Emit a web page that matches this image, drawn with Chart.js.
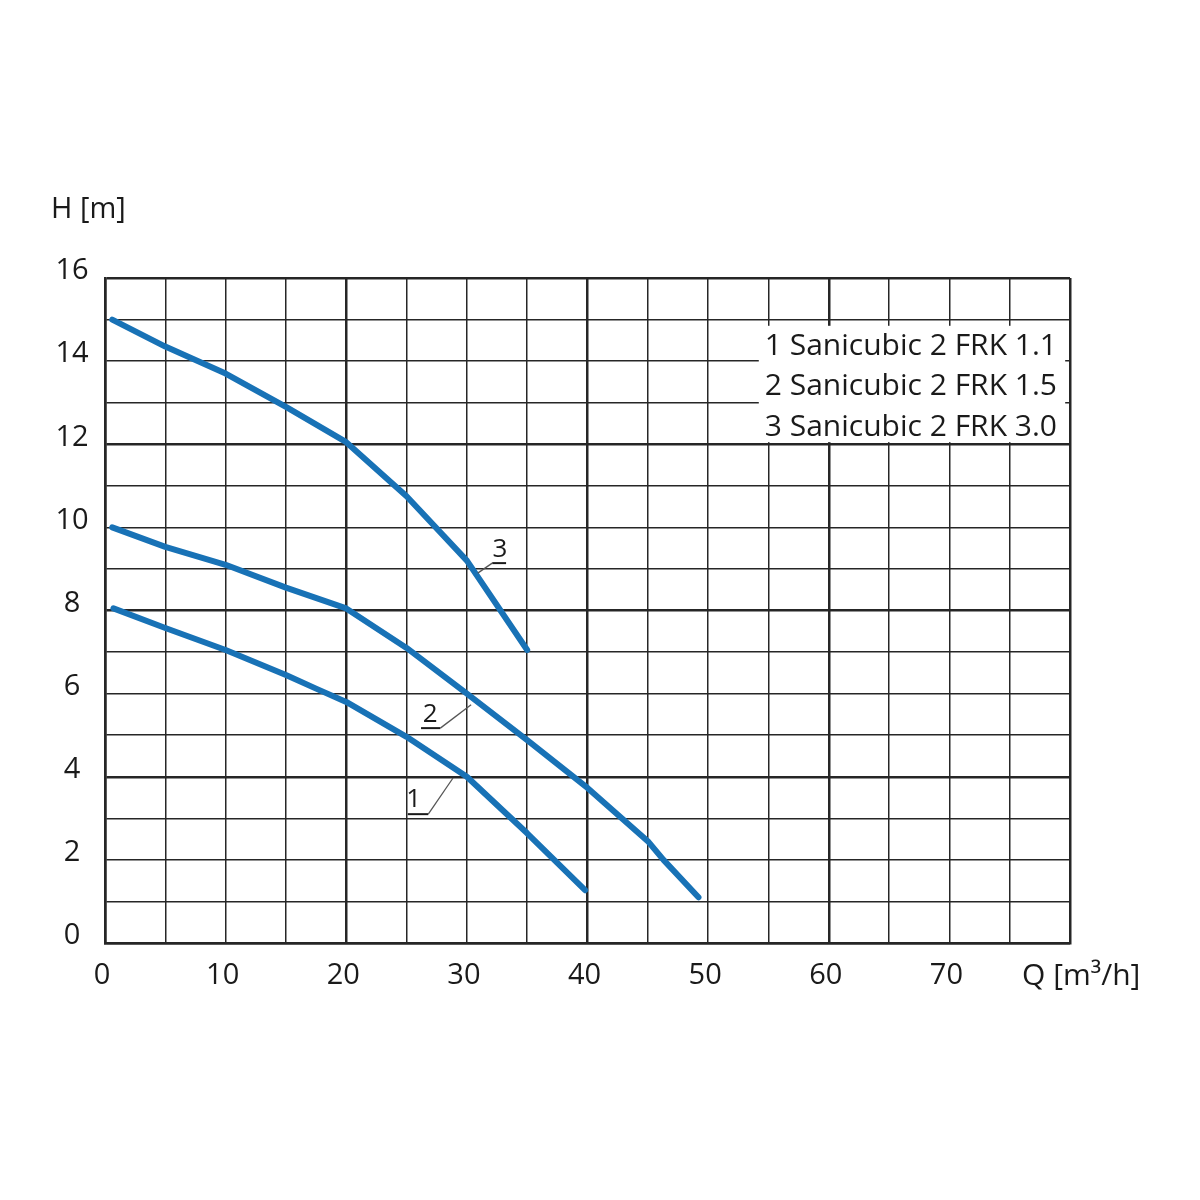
<!DOCTYPE html>
<html>
<head>
<meta charset="utf-8">
<script src="https://cdn.jsdelivr.net/npm/chart.js@4"></script>
<style>
  html, body { margin: 0; padding: 0; background: #fff; }
  #chart { display: block; }
</style>
</head>
<body>
<canvas id="chart" width="1200" height="1200"></canvas>
<script>
// pump curves: Q [m3/h] and H [m]
const qValues1 = [0.7, 5, 10, 15, 17.5, 20, 25, 30, 35, 39.8];
const hValues1 = [8.05, 7.58, 7.05, 6.45, 6.12, 5.8, 4.96, 4.0, 2.64, 1.27];

const qValues2 = [0.6, 5, 10, 15, 20, 25, 30, 35, 40, 45, 46.3, 49.2];
const hValues2 = [10.0, 9.53, 9.1, 8.55, 8.05, 7.1, 6.0, 4.88, 3.73, 2.45, 2.0, 1.1];

const qValues3 = [0.6, 5, 10, 15, 20, 25, 30, 35];
const hValues3 = [15.0, 14.35, 13.7, 12.9, 12.05, 10.75, 9.2, 7.05];

const xTickLabels = [0, 10, 20, 30, 40, 50, 60, 70];
const yTickLabels = [0, 2, 4, 6, 8, 10, 12, 14, 16];
const legendLines = ['1 Sanicubic 2 FRK 1.1', '2 Sanicubic 2 FRK 1.5', '3 Sanicubic 2 FRK 3.0'];

// curve number labels: text position, underline ends, leader end (data units)
const curveTags = [
    { text: '1', tx: 25.6, ty: 3.44, u1: 25.1, u2: 26.8, uy: 3.1, lx: 28.85, ly: 3.97 },
    { text: '2', tx: 26.95, ty: 5.49, u1: 26.2, u2: 27.8, uy: 5.17, lx: 30.35, ly: 5.73 },
    { text: '3', tx: 32.75, ty: 9.46, u1: 32.1, u2: 33.25, uy: 9.14, lx: 30.9, ly: 8.9 }
];

const BLUE = '#1872b6';
const GRID = '#262626';
const FONT = '"Open Sans", "DejaVu Sans", sans-serif';

function toPoints(qs, hs) {
    return qs.map((q, i) => ({ x: q, y: hs[i] }));
}

const curveStyle = {
    borderColor: BLUE,
    borderWidth: 6,
    pointRadius: 0,
    tension: 0,
    borderJoinStyle: 'round',
    borderCapStyle: 'round',
    fill: false
};

const textPlugin = {
    id: 'texts',
    afterDraw(chart) {
        const ctx = chart.ctx;
        const xs = chart.scales.x;
        const ys = chart.scales.y;
        ctx.save();
        ctx.fillStyle = '#1a1a1a';
        ctx.font = '29px ' + FONT;
        ctx.textBaseline = 'middle';

        // y tick labels
        ctx.textAlign = 'center';
        yTickLabels.forEach(v => {
            ctx.fillText(String(v), 72, ys.getPixelForValue(v) - 7);
        });
        // x tick labels
        xTickLabels.forEach(v => {
            ctx.fillText(String(v), xs.getPixelForValue(v) - 3, 976);
        });

        // axis titles
        ctx.textAlign = 'left';
        ctx.fillText('H [m]', 51, 210);
        ctx.font = '30px ' + FONT;
        ctx.fillText('Q [m\u00b3/h]', 1022, 976);

        // legend box
        const bx1 = xs.getPixelForValue(54.2);
        const bx2 = xs.getPixelForValue(79.6);
        const by1 = ys.getPixelForValue(14.85);
        const by2 = ys.getPixelForValue(12.05);
        ctx.fillStyle = '#fff';
        ctx.fillRect(bx1, by1, bx2 - bx1, by2 - by1);
        ctx.fillStyle = '#1a1a1a';
        ctx.font = '30px ' + FONT;
        ctx.textBaseline = 'alphabetic';
        legendLines.forEach((t, i) => {
            ctx.fillText(t, bx1 + 6, by1 + 29 + i * 40.5);
        });

        // curve labels with leaders
        ctx.font = '26px ' + FONT;
        ctx.textAlign = 'center';
        ctx.textBaseline = 'middle';
        curveTags.forEach(c => {
            ctx.fillText(c.text, xs.getPixelForValue(c.tx), ys.getPixelForValue(c.ty));
            ctx.strokeStyle = '#1a1a1a';
            ctx.lineWidth = 2;
            ctx.beginPath();
            ctx.moveTo(xs.getPixelForValue(c.u1), ys.getPixelForValue(c.uy));
            ctx.lineTo(xs.getPixelForValue(c.u2), ys.getPixelForValue(c.uy));
            ctx.stroke();
            ctx.strokeStyle = '#555';
            ctx.lineWidth = 1.3;
            ctx.beginPath();
            const sx = c.text === '3' ? c.u1 : c.u2;
            ctx.moveTo(xs.getPixelForValue(sx), ys.getPixelForValue(c.uy));
            ctx.lineTo(xs.getPixelForValue(c.lx), ys.getPixelForValue(c.ly));
            ctx.stroke();
        });
        ctx.restore();
    }
};

new Chart(document.getElementById('chart').getContext('2d'), {
    type: 'line',
    data: {
        datasets: [
            Object.assign({ label: '1', data: toPoints(qValues1, hValues1) }, curveStyle),
            Object.assign({ label: '2', data: toPoints(qValues2, hValues2) }, curveStyle),
            Object.assign({ label: '3', data: toPoints(qValues3, hValues3) }, curveStyle)
        ]
    },
    options: {
        responsive: false,
        animation: false,
        devicePixelRatio: 1,
        layout: { padding: { left: 0, right: 130, top: 278, bottom: 0 } },
        plugins: { legend: { display: false }, tooltip: { enabled: false } },
        scales: {
            x: {
                type: 'linear',
                min: 0,
                max: 80,
                ticks: { stepSize: 5, display: false },
                grid: {
                    color: GRID,
                    drawTicks: false,
                    lineWidth: c => (c.tick && c.tick.value % 20 === 0) ? 2.5 : 1.5
                },
                border: { color: GRID, width: 2.5 },
                afterFit: s => { s.height = 257; }
            },
            y: {
                type: 'linear',
                min: 0,
                max: 16,
                ticks: { stepSize: 1, display: false },
                grid: {
                    color: GRID,
                    drawTicks: false,
                    lineWidth: c => (c.tick && c.tick.value % 4 === 0) ? 2.5 : 1.5
                },
                border: { color: GRID, width: 2.5 },
                afterFit: s => { s.width = 105; }
            }
        }
    },
    plugins: [textPlugin]
});
</script>
</body>
</html>
